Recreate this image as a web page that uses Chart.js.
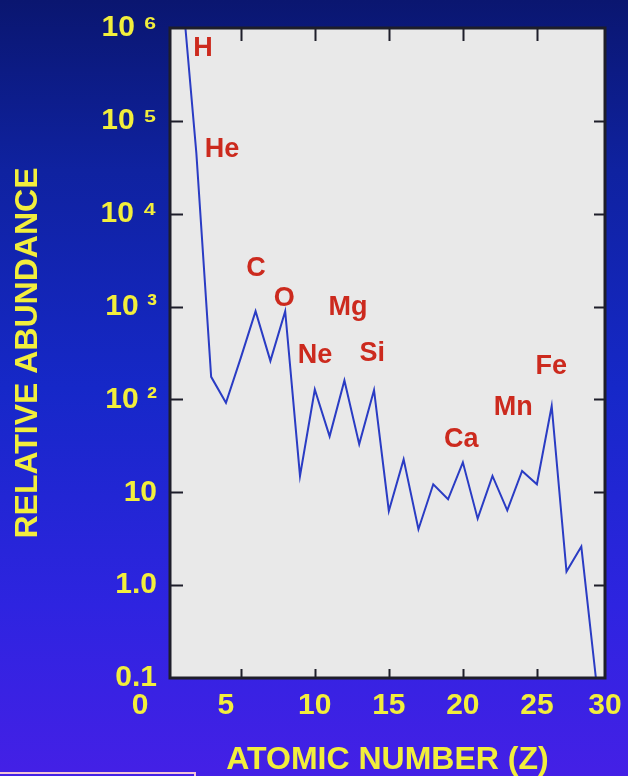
<!DOCTYPE html>
<html>
<head>
<meta charset="utf-8">
<script src="https://cdn.jsdelivr.net/npm/chart.js@4.4.1/dist/chart.umd.min.js"></script>
<style>
html,body{margin:0;padding:0;width:628px;height:776px;overflow:hidden;}
body{position:relative;background:linear-gradient(to bottom,#0a1670 0%,#0f22a0 22%,#1628c8 50%,#2e24e0 78%,#4420e6 100%);}
#c{position:absolute;left:0;top:0;}
#box{position:absolute;left:0;top:772px;width:194px;height:10px;border-top:2px solid #f3c6d6;border-right:2px solid #f3c6d6;}
</style>
</head>
<body>
<canvas id="c" width="628" height="776"></canvas>
<div id="box"></div>
<script>
// ---- data ----
const atomicNumbers = [1,2,3,4,5,6,7,8,9,10,11,12,13,14,15,16,17,18,19,20,21,22,23,24,25,26,27,28,29];
const abundances = [3.0e6,4.5e4,175,92,280,890,260,890,15,128,40,160,33,126,6.3,22.6,4.0,12.2,8.4,21,5.2,15,6.4,17,12.2,85,1.4,2.6,0.095];

const elementLabels = ['H','He','C','O','Mg','Ne','Si','Ca','Mn','Fe'];
const labelZ        = [2.45,3.74,6.03,7.93,12.25,10.02,13.88,19.89,23.40,25.97];
const labelLevel    = [5.0e5,4.1e4,2140,1020,820,245,257,31,68,190];

const xRange = [0.22, 29.6];
const xTickValues = [5,10,15,20,25];
const xTickLabels = ['0','5','10','15','20','25','30'];
const yTickValues = [0.1,1,10,100,1e3,1e4,1e5,1e6];
const yTickLabels = ['0.1','1.0','10','10 \u00b2','10 \u00b3','10 \u2074','10 \u2075','10 \u2076'];

const YELLOW = '#f2ee3c';
const RED = '#cc2a1e';
const FONT = '"Liberation Sans", Arial, Helvetica, sans-serif';

const framePlugin = {
  id: 'frame',
  beforeDatasetsDraw(chart) {
    const {ctx, chartArea: a} = chart;
    ctx.save();
    ctx.fillStyle = '#e9e9e9';
    ctx.fillRect(a.left, a.top, a.right - a.left, a.bottom - a.top);
    ctx.restore();
  },
  afterDatasetsDraw(chart) {
    const {ctx, chartArea: a, scales} = chart;
    const xs = scales.x, ys = scales.y;
    ctx.save();
    ctx.strokeStyle = '#1e1e2a';
    ctx.lineWidth = 2;
    ctx.beginPath();
    xTickValues.forEach(v => {
      const px = Math.round(xs.getPixelForValue(v)) + 0.5;
      ctx.moveTo(px, a.bottom); ctx.lineTo(px, a.bottom - 9);
      ctx.moveTo(px, a.top); ctx.lineTo(px, a.top + 13);
    });
    yTickValues.slice(1, -1).forEach(v => {
      const py = Math.round(ys.getPixelForValue(v)) + 0.5;
      ctx.moveTo(a.left, py); ctx.lineTo(a.left + 13, py);
      ctx.moveTo(a.right, py); ctx.lineTo(a.right - 11, py);
    });
    ctx.stroke();
    ctx.lineWidth = 3;
    ctx.strokeRect(a.left, a.top, a.right - a.left, a.bottom - a.top);
    // element labels
    ctx.fillStyle = RED;
    ctx.font = 'bold 27px ' + FONT;
    ctx.textAlign = 'center';
    ctx.textBaseline = 'alphabetic';
    elementLabels.forEach((t, i) => {
      ctx.fillText(t, xs.getPixelForValue(labelZ[i]), ys.getPixelForValue(labelLevel[i]));
    });
    ctx.restore();
  }
};

Chart.defaults.font.family = FONT;

new Chart(document.getElementById('c'), {
  type: 'line',
  data: {
    datasets: [{
      data: atomicNumbers.map((z, i) => ({x: z, y: abundances[i]})),
      borderColor: '#2a3cc4',
      borderWidth: 2,
      pointRadius: 0,
      tension: 0,
      fill: false
    }]
  },
  options: {
    responsive: false,
    animation: false,
    devicePixelRatio: 1,
    layout: {padding: {left: 0, right: 23, top: 28, bottom: 0}},
    plugins: {legend: {display: false}, tooltip: {enabled: false}},
    scales: {
      x: {
        type: 'linear',
        min: xRange[0], max: xRange[1],
        grid: {display: false, drawTicks: false},
        border: {display: false},
        afterBuildTicks: s => { s.ticks = [xRange[0], ...xTickValues, xRange[1]].map(v => ({value: v})); },
        afterFit: s => { s.height = 98; s.paddingRight = 0; s.paddingLeft = 0; },
        ticks: {
          color: YELLOW,
          padding: 10,
          maxRotation: 0,
          autoSkip: false,
          font: {size: 30, weight: 'bold'},
          callback: (v, i) => {
            const t = xTickLabels[i];
            if (i === 0) return t + '\u2003\u2003';
            if (i === 1) return t + '\u2003';
            return t;
          }
        },
        title: {
          display: true,
          text: 'ATOMIC NUMBER (Z)',
          color: YELLOW,
          font: {size: 32, weight: 'bold', lineHeight: 1},
          padding: {top: 0, bottom: 0}
        }
      },
      y: {
        type: 'logarithmic',
        min: yTickValues[0], max: yTickValues[yTickValues.length - 1],
        grid: {display: false, drawTicks: false},
        border: {display: false},
        afterBuildTicks: s => { s.ticks = yTickValues.map(v => ({value: v})); },
        afterFit: s => { s.width = 170; s.paddingTop = 0; s.paddingBottom = 0; },
        ticks: {
          color: YELLOW,
          padding: 13,
          autoSkip: false,
          font: {size: 30, weight: 'bold'},
          callback: (v, i) => yTickLabels[i]
        },
        title: {
          display: true,
          text: 'RELATIVE ABUNDANCE',
          color: YELLOW,
          font: {size: 32, weight: 'bold', lineHeight: 1},
          padding: {top: 12, bottom: 0}
        }
      }
    }
  },
  plugins: [framePlugin]
});
</script>
</body>
</html>
